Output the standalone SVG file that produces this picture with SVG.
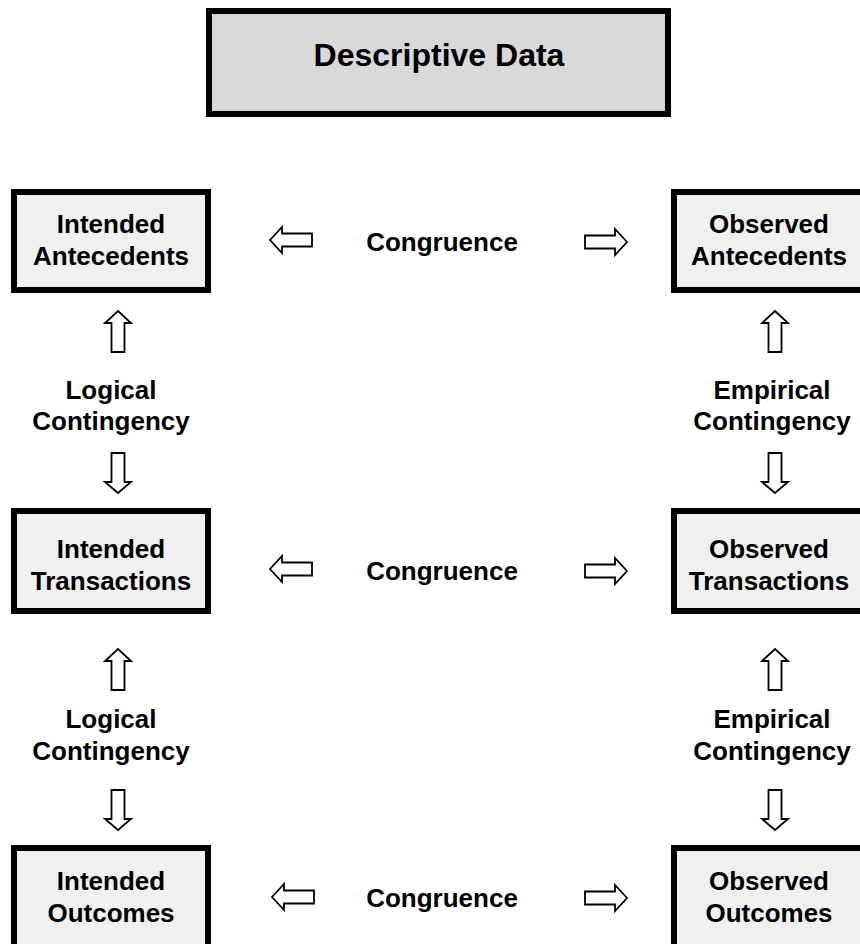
<svg xmlns="http://www.w3.org/2000/svg" xmlns:xlink="http://www.w3.org/1999/xlink" width="860" height="944" viewBox="0 0 860 944">
<style>
.box{fill:#f0f0f0;stroke:#000;stroke-width:6}
.top{fill:#d9d9d9;stroke:#000;stroke-width:6}
.t{font-family:"Liberation Sans",Arial,sans-serif;font-weight:bold;font-size:26px;fill:#000;text-anchor:middle}
.tt{font-family:"Liberation Sans",Arial,sans-serif;font-weight:bold;font-size:32px;fill:#000;text-anchor:middle}
.arr{fill:#fff;stroke:#000;stroke-width:1.8;stroke-linejoin:miter}
</style>
<defs>
<path id="aL" class="arr" d="M0,0 L12,-13 L12,-6.5 L42,-6.5 L42,6.5 L12,6.5 L12,13 Z"/>
<path id="aR" class="arr" d="M0,0 L-12,-13 L-12,-6.5 L-42,-6.5 L-42,6.5 L-12,6.5 L-12,13 Z"/>
<path id="aU" class="arr" d="M0,0 L13,12 L6.5,12 L6.5,41 L-6.5,41 L-6.5,12 L-13,12 Z"/>
<path id="aD" class="arr" d="M0,0 L13,-11 L6.5,-11 L6.5,-40 L-6.5,-40 L-6.5,-11 L-13,-11 Z"/>
</defs>
<rect width="860" height="944" fill="#fff"/>
<g id="descriptive-data">
<rect class="top" x="209" y="11" width="459" height="103"/>
<text class="tt" x="439" y="66">Descriptive Data</text>
</g>
<g id="intended-antecedents">
<rect class="box" x="14" y="192" width="194" height="98"/>
<text class="t" x="111" y="233">Intended</text>
<text class="t" x="111" y="265">Antecedents</text>
</g>
<g id="observed-antecedents">
<rect class="box" x="674" y="192" width="194" height="98"/>
<text class="t" x="769" y="233">Observed</text>
<text class="t" x="769" y="265">Antecedents</text>
</g>
<g id="intended-transactions">
<rect class="box" x="14" y="511" width="194" height="100"/>
<text class="t" x="111" y="558">Intended</text>
<text class="t" x="111" y="590">Transactions</text>
</g>
<g id="observed-transactions">
<rect class="box" x="674" y="511" width="194" height="100"/>
<text class="t" x="769" y="558">Observed</text>
<text class="t" x="769" y="590">Transactions</text>
</g>
<g id="intended-outcomes">
<rect class="box" x="14" y="848" width="194" height="110"/>
<text class="t" x="111" y="890">Intended</text>
<text class="t" x="111" y="922">Outcomes</text>
</g>
<g id="observed-outcomes">
<rect class="box" x="674" y="848" width="194" height="110"/>
<text class="t" x="769" y="890">Observed</text>
<text class="t" x="769" y="922">Outcomes</text>
</g>
<g id="connectors">
<use xlink:href="#aL" x="270" y="240"/>
<use xlink:href="#aR" x="627" y="242"/>
<text class="t" x="442" y="251">Congruence</text>
<use xlink:href="#aL" x="270" y="569"/>
<use xlink:href="#aR" x="627" y="571"/>
<text class="t" x="442" y="580">Congruence</text>
<use xlink:href="#aL" x="272" y="897"/>
<use xlink:href="#aR" x="627" y="898"/>
<text class="t" x="442" y="907">Congruence</text>
<use xlink:href="#aU" x="118" y="311"/>
<text class="t" x="111" y="399">Logical</text>
<text class="t" x="111" y="430">Contingency</text>
<use xlink:href="#aD" x="118" y="493"/>
<use xlink:href="#aU" x="775" y="311"/>
<text class="t" x="772" y="399">Empirical</text>
<text class="t" x="772" y="430">Contingency</text>
<use xlink:href="#aD" x="775" y="493"/>
<use xlink:href="#aU" x="118" y="649"/>
<text class="t" x="111" y="728">Logical</text>
<text class="t" x="111" y="760">Contingency</text>
<use xlink:href="#aD" x="118" y="830"/>
<use xlink:href="#aU" x="775" y="649"/>
<text class="t" x="772" y="728">Empirical</text>
<text class="t" x="772" y="760">Contingency</text>
<use xlink:href="#aD" x="775" y="830"/>
</g>
</svg>
